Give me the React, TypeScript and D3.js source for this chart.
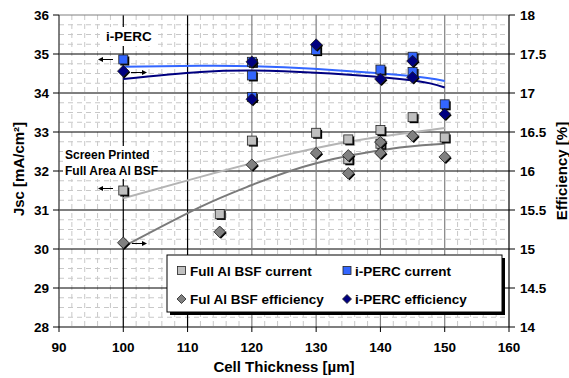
import React from "react";
import * as d3 from "d3";

const xTicks = [90, 100, 110, 120, 130, 140, 150, 160];
const yLeftTicks = [28, 29, 30, 31, 32, 33, 34, 35, 36];
const yRightTicks = [14, 14.5, 15, 15.5, 16, 16.5, 17, 17.5, 18];

const alCurX = [100, 115, 120, 130, 135, 135, 140, 140, 145, 150];
const alCurY = [31.5, 30.9, 32.78, 32.98, 32.81, 32.3, 33.05, 32.7, 33.38, 32.86];
const alEffX = [100, 115, 120, 130, 135, 135, 140, 140, 145, 150];
const alEffY = [15.08, 15.22, 16.08, 16.23, 16.2, 15.97, 16.37, 16.23, 16.45, 16.18];

const percCurX = [100, 120, 120, 120, 130, 140, 145, 145, 150];
const percCurY = [34.86, 34.8, 34.45, 33.9, 35.1, 34.6, 34.93, 34.54, 33.71];
const percEffX = [100, 120, 120, 130, 140, 145, 145, 150];
const percEffY = [17.28, 17.4, 16.92, 17.62, 17.18, 17.41, 17.2, 16.73];

const percCurTrendX = [100, 112, 125, 143, 150];
const percCurTrendY = [34.67, 34.7, 34.66, 34.46, 34.31];
const percEffTrendX = [100, 112, 125, 143, 150];
const percEffTrendY = [17.18, 17.27, 17.28, 17.18, 17.07];
const alCurTrendX = [100, 112, 125, 135, 143, 150];
const alCurTrendY = [31.3, 31.85, 32.4, 32.75, 32.95, 33.1];
const alEffTrendX = [100, 112, 120, 130, 143, 150];
const alEffTrendY = [15.03, 15.54, 15.82, 16.1, 16.3, 16.35];

const FONT = "'Liberation Sans', Arial, Helvetica, sans-serif";

const x = d3.scaleLinear().domain([90, 160]).range([59, 509]);
const yL = d3.scaleLinear().domain([28, 36]).range([327, 15]);
const yR = d3.scaleLinear().domain([14, 18]).range([327, 15]);

function Square({ cx, cy, fill, s = 9 }: { cx: number; cy: number; fill: string; s?: number }) {
  return (
    <g>
      <rect x={cx - s / 2 + 1.5} y={cy - s / 2 + 1.5} width={s} height={s} fill="#000" />
      <rect x={cx - s / 2} y={cy - s / 2} width={s} height={s} fill={fill} stroke="#222" strokeWidth={0.8} />
    </g>
  );
}

function Diamond({ cx, cy, fill, r = 5.8 }: { cx: number; cy: number; fill: string; r?: number }) {
  const p = (dx: number, dy: number) =>
    `M${cx + dx},${cy - r + dy}L${cx + r + dx},${cy + dy}L${cx + dx},${cy + r + dy}L${cx - r + dx},${cy + dy}Z`;
  return (
    <g>
      <path d={p(1.2, 1.2)} fill="#000" />
      <path d={p(0, 0)} fill={fill} stroke="#222" strokeWidth={0.8} />
    </g>
  );
}

function Arrow({ x1, x2, y }: { x1: number; x2: number; y: number }) {
  const dir = Math.sign(x2 - x1);
  return (
    <g>
      <line x1={x1} y1={y} x2={x2 - dir * 3} y2={y} stroke="#000" strokeWidth={1} />
      <path d={`M${x2},${y}L${x2 - dir * 5},${y - 2.5}L${x2 - dir * 5},${y + 2.5}Z`} fill="#000" />
    </g>
  );
}

const B = { fontWeight: 700 as const };

export default function App() {
  const lineL = (xs: number[], ys: number[]) =>
    d3.line<number>().x((_, i) => x(xs[i])).y((d) => yL(d)).curve(d3.curveNatural)(ys) || "";
  const lineR = (xs: number[], ys: number[]) =>
    d3.line<number>().x((_, i) => x(xs[i])).y((d) => yR(d)).curve(d3.curveNatural)(ys) || "";

  const minorY = d3.range(28, 36, 0.25).filter((v) => Math.abs(v - Math.round(v)) > 0.01);
  const minorX = d3.range(90, 160, 2).filter((v) => v % 10 !== 0);
  const [x0, x1] = x.range();
  const [yb, yt] = yL.range();

  return (
    <svg width={569} height={378} style={{ position: "absolute", left: 0, top: 0, background: "#fff", fontFamily: FONT, fontWeight: 700 }}>
      <rect x={0} y={0} width={569} height={378} fill="#fff" />
      {/* minor grid */}
      {minorY.map((v) => (
        <line key={"my" + v} x1={x0} x2={x1} y1={yL(v)} y2={yL(v)} stroke="#c8c8c8" strokeWidth={1} strokeDasharray="5,4" />
      ))}
      {minorX.map((v) => (
        <line key={"mx" + v} x1={x(v)} x2={x(v)} y1={yt} y2={yb} stroke="#c8c8c8" strokeWidth={1} strokeDasharray="5,4" />
      ))}
      {/* major grid */}
      {yLeftTicks.slice(1, -1).map((v) => (
        <line key={"gy" + v} x1={x0} x2={x1} y1={yL(v)} y2={yL(v)} stroke="#000" strokeWidth={1} />
      ))}
      {xTicks.slice(1, -1).map((v) => (
        <line key={"gx" + v} x1={x(v)} x2={x(v)} y1={yt} y2={yb} stroke={v <= 110 ? "#000" : "#808080"} strokeWidth={1.2} />
      ))}
      {/* frame */}
      <line x1={x0} x2={x1} y1={yt} y2={yt} stroke="#808080" strokeWidth={1.2} />
      <line x1={x0} x2={x0} y1={yt} y2={yb} stroke="#555" strokeWidth={1.5} />
      <line x1={x1} x2={x1} y1={yt} y2={yb} stroke="#000" strokeWidth={1.2} />
      <line x1={x0} x2={x1} y1={yb} y2={yb} stroke="#000" strokeWidth={1.2} />
      {/* ticks */}
      {yLeftTicks.map((v) => (
        <g key={"tl" + v}>
          <line x1={x0 - 6} x2={x0} y1={yL(v)} y2={yL(v)} stroke="#000" />
          <text x={49} y={yL(v)} dy="0.36em" textAnchor="end" fontSize={13.5} style={B}>
            {v}
          </text>
        </g>
      ))}
      {yRightTicks.map((v) => (
        <g key={"tr" + v}>
          <line x1={x1} x2={x1 + 6} y1={yR(v)} y2={yR(v)} stroke="#000" />
          <text x={520} y={yR(v)} dy="0.36em" textAnchor="start" fontSize={13.5} style={B}>
            {v}
          </text>
        </g>
      ))}
      {xTicks.map((v) => (
        <g key={"tx" + v}>
          <line x1={x(v)} x2={x(v)} y1={yb} y2={yb + 5} stroke="#000" />
          <text x={x(v)} y={352} textAnchor="middle" fontSize={13.5} style={B}>
            {v}
          </text>
        </g>
      ))}
      {/* axis titles */}
      <text x={284} y={372} textAnchor="middle" fontSize={15} style={B}>
        Cell Thickness [µm]
      </text>
      <text transform={`translate(24,${169}) rotate(-90)`} textAnchor="middle" fontSize={15} style={B}>
        Jsc [mA/cm²]
      </text>
      <text transform={`translate(567,${171}) rotate(-90)`} textAnchor="middle" fontSize={15} style={B}>
        Efficiency [%]
      </text>
      {/* trendlines */}
      <path d={lineL(alCurTrendX, alCurTrendY)} fill="none" stroke="#b4b4b4" strokeWidth={2} />
      <path d={lineR(alEffTrendX, alEffTrendY)} fill="none" stroke="#7a7a7a" strokeWidth={2} />
      <path d={lineL(percCurTrendX, percCurTrendY)} fill="none" stroke="#3366ff" strokeWidth={2} />
      <path d={lineR(percEffTrendX, percEffTrendY)} fill="none" stroke="#000080" strokeWidth={2} />
      {/* markers */}
      {alCurX.map((v, i) => (
        <Square key={"ac" + i} cx={x(v)} cy={yL(alCurY[i])} fill="#c0c0c0" />
      ))}
      {alEffX.map((v, i) => (
        <Diamond key={"ae" + i} cx={x(v)} cy={yR(alEffY[i])} fill="#808080" />
      ))}
      {percCurX.map((v, i) => (
        <Square key={"pc" + i} cx={x(v)} cy={yL(percCurY[i])} fill="#3366ff" />
      ))}
      {percEffX.map((v, i) => (
        <Diamond key={"pe" + i} cx={x(v)} cy={yR(percEffY[i])} fill="#000080" />
      ))}
      {/* annotations */}
      <rect x={103} y={27} width={52} height={19} fill="#fff" />
      <text x={106} y={41} fontSize={13.5} style={B}>
        i-PERC
      </text>
      <rect x={63} y={146} width={90} height={33} fill="#fff" />
      <text x={65} y={159} fontSize={12} style={B}>
        Screen Printed
      </text>
      <text x={65} y={175} fontSize={12} style={B}>
        Full Area Al BSF
      </text>
      <Arrow x1={113} x2={98} y={59.5} />
      <Arrow x1={131} x2={147} y={72.5} />
      <Arrow x1={113} x2={98} y={188.5} />
      <Arrow x1={132} x2={147} y={243.5} />
      {/* legend */}
      <rect x={170} y={258} width={335} height={57} fill="#000" />
      <rect x={167} y={255} width={335} height={57} fill="#fff" stroke="#000" strokeWidth={1} />
      <rect x={177.5} y={266.5} width={8} height={8} fill="#c0c0c0" stroke="#222" strokeWidth={0.8} />
      <text x={190} y={275.5} fontSize={13.5} style={B}>
        Full Al BSF current
      </text>
      <rect x={343} y={266.5} width={8} height={8} fill="#3366ff" stroke="#222" strokeWidth={0.8} />
      <text x={355} y={275.5} fontSize={13.5} style={B}>
        i-PERC current
      </text>
      <path d="M181.5,294.5L186,299L181.5,303.5L177,299Z" fill="#808080" stroke="#222" strokeWidth={0.8} />
      <text x={190} y={304} fontSize={13.5} style={B}>
        Ful Al BSF efficiency
      </text>
      <path d="M347,294.5L351.5,299L347,303.5L342.5,299Z" fill="#000080" stroke="#222" strokeWidth={0.8} />
      <text x={355} y={304} fontSize={13.5} style={B}>
        i-PERC efficiency
      </text>
    </svg>
  );
}
